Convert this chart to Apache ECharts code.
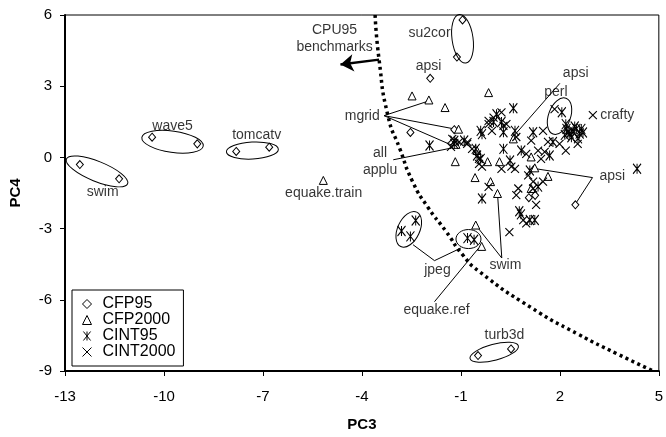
<!DOCTYPE html>
<html>
<head>
<meta charset="utf-8">
<script src="https://cdn.jsdelivr.net/npm/echarts@6/dist/echarts.min.js"></script>
<style>
html, body { margin: 0; padding: 0; background: #fff; }
#chart { width: 666px; height: 437px; }
</style>
</head>
<body>
<div id="chart"></div>
<script>
// values (PC3, PC4)
const cfp95 = [
  [-12.55, -0.3], [-11.36, -0.9], [-10.36, 0.85], [-8.99, 0.57], [-7.81, 0.25], [-6.81, 0.43],
  [-0.95, 5.79], [-1.12, 4.23], [-1.93, 3.33], [-2.53, 1.05], [-1.2, 1.17], [-1.15, 0.6],
  [1.06, -1.7], [1.25, -1.6], [2.47, -2.0], [-0.48, -8.35], [0.52, -8.07]
];
const cfp2000 = [
  [-5.17, -0.97], [-2.48, 2.59], [-1.97, 2.42], [-1.48, 2.1], [-0.16, 2.73], [-1.07, 1.19], [0.59, 0.78],
  [-1.17, -0.18], [-0.57, -0.85], [-0.19, -0.18], [0.17, -0.18], [1.13, 0.02], [-0.51, 0.29], [1.24, -0.44],
  [1.64, -0.8], [-0.1, -1.02], [0.11, -1.52], [1.13, -1.31], [-0.55, -2.85], [-0.37, -3.75], [-1.15, 0.55]
];
const cint95 = [
  [-2.8, -3.1], [-2.53, -3.33], [-2.37, -2.66], [-0.8, -3.4], [-0.6, -3.47], [4.34, -0.48], [-1.95, 0.5],
  [0.08, 1.82], [0.59, 2.07], [-0.01, 1.49], [0.23, 1.49], [-0.4, 1.12], [0.29, 1.06], [0.64, 1.12], [-0.36, 0.98],
  [-1.2, 0.57], [-0.9, 0.71], [-1.2, 0.7], [-0.55, 0.36], [-0.51, 0.08], [-0.4, -0.06], [0.29, 0.36], [0.49, -0.13],
  [1.19, 1.06], [0.83, 0.29], [1.69, 0.08], [1.79, 0.65], [2.06, 1.9], [2.18, 1.4],
  [2.2, 1.2], [2.3, 1.0], [2.4, 1.1], [2.5, 1.2], [2.6, 1.0], [2.35, 0.85], [2.55, 0.8], [2.7, 1.05],
  [2.15, 0.95], [2.45, 1.3], [2.65, 1.2], [2.25, 1.05],
  [1.09, -0.55], [1.34, -1.23], [-0.36, -1.73], [0.77, -2.27], [0.82, -2.4], [1.09, -2.64], [1.24, -2.64]
];
const cint2000 = [
  [3.0, 1.78], [1.84, 2.03], [0.23, 1.9], [-0.16, 1.54], [0.38, 1.4], [-0.06, 1.12], [0.68, 0.86], [-1.26, 0.78],
  [-1.05, 0.65], [-0.81, 0.57], [-0.66, 0.36], [-1.3, 0.44], [-0.8, 0.64], [-0.45, -0.06], [-0.45, -0.27], [-0.36, -0.39],
  [0.23, -0.48], [0.53, -0.39], [0.64, -0.48], [1.49, 1.12], [1.13, 0.71], [0.98, 0.15], [1.34, 0.29], [1.54, 0.23],
  [1.43, -0.06], [1.99, 0.57], [1.64, 0.65], [2.18, 0.29], [2.54, 0.57], [1.04, -0.76], [1.19, -1.02], [1.49, -1.02],
  [1.19, -1.31], [0.74, -1.31], [0.68, -1.59], [-0.16, -1.24], [-0.01, 1.68], [0.29, 1.33], [-0.16, 1.4],
  [1.28, -2.0], [0.89, -2.64], [0.98, -2.78], [0.47, -3.15]
];
// dotted boundary of the CPU95 region
const boundary = [
  [-3.6, 6.0], [-3.48, 4.12], [-3.21, 1.75], [-2.85, 0.36], [-2.46, -1.03], [-2.01, -2.08],
  [-1.45, -3.12], [-0.95, -4.1], [-0.46, -4.79], [1.13, -6.33],
  [2.54, -7.44], [3.74, -8.28], [4.84, -9.01]
];

// annotations
const labels = [
  { name: 'CPU95\nbenchmarks', value: [-4.83, 5.02] },
  { name: 'su2cor', value: [-1.95, 5.25] },
  { name: 'apsi', value: [-1.98, 3.83] },
  { name: 'apsi', value: [2.48, 3.53] },
  { name: 'mgrid', value: [-3.99, 1.74] },
  { name: 'all\napplu', value: [-3.45, -0.18] },
  { name: 'wave5', value: [-9.74, 1.32] },
  { name: 'tomcatv', value: [-7.19, 0.94] },
  { name: 'swim', value: [-11.86, -1.48] },
  { name: 'equake.train', value: [-5.16, -1.52] },
  { name: 'perl', value: [1.88, 2.74] },
  { name: 'crafty', value: [3.74, 1.78] },
  { name: 'apsi', value: [3.59, -0.81] },
  { name: 'jpeg', value: [-1.71, -4.74] },
  { name: 'swim', value: [0.35, -4.53] },
  { name: 'equake.ref', value: [-1.74, -6.45] },
  { name: 'turb3d', value: [0.32, -7.5] }
];
const leaders = [
  [[-3.33, 1.76], [-1.97, 2.38]],
  [[-3.33, 1.76], [-1.2, 1.2]],
  [[-3.33, 1.76], [-1.25, 0.5]],
  [[-3.05, -0.1], [-1.3, 0.39]],
  [[0.59, 0.88], [2.0, 3.12]],
  [[1.28, -0.48], [2.99, -0.85], [2.45, -2.01]],
  [[-2.45, -3.68], [-1.8, -4.35], [-1.0, -3.82]],
  [[-0.55, -2.85], [0.24, -4.24], [0.11, -1.52]],
  [[-1.8, -6.08], [-0.46, -3.82]]
];
const arrow = [[-3.48, 4.12], [-4.65, 3.91]];
const ellipses = [
  { c: [-0.95, 5.0], rx: 10.5, ry: 24.5, rot: -8 },
  { c: [1.99, 1.74], rx: 11, ry: 19, rot: 20 },
  { c: [-9.74, 0.66], rx: 31, ry: 10.7, rot: 8 },
  { c: [-7.32, 0.29], rx: 26, ry: 8.5, rot: -3 },
  { c: [-12.03, -0.59], rx: 33, ry: 10, rot: 22 },
  { c: [-2.58, -3.03], rx: 11, ry: 19, rot: 25 },
  { c: [-0.77, -3.44], rx: 12.5, ry: 9.5, rot: 0 },
  { c: [0.01, -8.21], rx: 25, ry: 8, rot: -15 }
];

const FONT = 'Liberation Sans, Arial, sans-serif';
const asterisk = 'path://M0,0L8,10M8,0L0,10M4,0L4,10';
const cross = 'path://M0,0L10,10M10,0L0,10';
const markStyle = { color: '#fff', borderColor: '#000', borderWidth: 1, opacity: 1 };
const strokeStyle = { color: 'transparent', borderColor: '#000', borderWidth: 1.1, opacity: 1 };

const option = {
  animation: false,
  backgroundColor: '#fff',
  grid: { left: 61, right: 4, top: 15, bottom: 63, show: true, borderColor: '#000', borderWidth: 1 },
  legend: {
    orient: 'vertical', left: 72, top: 290,
    data: ['CFP95', 'CFP2000', 'CINT95', 'CINT2000'],
    itemWidth: 9, itemHeight: 9, itemGap: 0,
    padding: [6, 8, 6, 10],
    borderColor: '#000', borderWidth: 1, backgroundColor: '#fff',
    itemStyle: { borderWidth: 1 },
    textStyle: { fontFamily: FONT, fontSize: 16, lineHeight: 16, color: '#000', padding: [0, 0, 0, 6] },
    selectedMode: false
  },
  xAxis: {
    type: 'value', min: -13, max: 5, interval: 3,
    name: 'PC3', nameLocation: 'middle', nameGap: 46,
    nameTextStyle: { fontFamily: FONT, fontSize: 15, fontWeight: 'bold', color: '#000' },
    axisLine: { onZero: false, lineStyle: { color: '#000', width: 2 } },
    axisTick: { show: true, length: 5, lineStyle: { color: '#000' } },
    axisLabel: { fontFamily: FONT, fontSize: 15, color: '#000', margin: 18 },
    splitLine: { show: false }
  },
  yAxis: {
    type: 'value', min: -9, max: 6, interval: 3,
    name: 'PC4', nameLocation: 'middle', nameGap: 42, nameRotate: 90,
    nameTextStyle: { fontFamily: FONT, fontSize: 15, fontWeight: 'bold', color: '#000' },
    axisLine: { onZero: false, lineStyle: { color: '#000', width: 2 } },
    axisTick: { show: true, length: 5, lineStyle: { color: '#000' } },
    axisLabel: { fontFamily: FONT, fontSize: 15, color: '#000', margin: 13 },
    splitLine: { show: false }
  },
  series: [
    {
      name: 'boundary', type: 'line', data: boundary, smooth: 0.6, symbol: 'none', z: 1,
      lineStyle: { color: '#000', width: 3.5, type: [3, 3.5], cap: 'butt' }
    },
    {
      name: 'leaders', type: 'lines', coordinateSystem: 'cartesian2d', polyline: true, z: 3,
      data: leaders.map(c => ({ coords: c })),
      lineStyle: { color: '#000', width: 1, opacity: 1 }
    },
    {
      name: 'arrow', type: 'lines', coordinateSystem: 'cartesian2d', z: 3,
      symbol: ['none', 'arrow'], symbolSize: 13,
      data: [{ coords: arrow }],
      lineStyle: { color: '#000', width: 2.5, opacity: 1 }
    },
    { name: 'CFP95', type: 'scatter', data: cfp95, symbol: 'diamond', symbolSize: [7, 8], itemStyle: markStyle, z: 4 },
    { name: 'CFP2000', type: 'scatter', data: cfp2000, symbol: 'triangle', symbolSize: [8, 8], itemStyle: markStyle, z: 4 },
    { name: 'CINT95', type: 'scatter', data: cint95, symbol: asterisk, symbolSize: [8, 10], itemStyle: strokeStyle, z: 5 },
    { name: 'CINT2000', type: 'scatter', data: cint2000, symbol: cross, symbolSize: [8, 8], itemStyle: strokeStyle, z: 5 },
    {
      name: 'labels', type: 'scatter', data: labels, symbolSize: 1, z: 6,
      itemStyle: { color: 'transparent' },
      label: {
        show: true, position: 'inside', formatter: '{b}',
        fontFamily: FONT, fontSize: 14, color: '#000', lineHeight: 17,
        textBorderWidth: 0, backgroundColor: 'transparent'
      },
      silent: true
    }
  ]
};

const chart = echarts.init(document.getElementById('chart'));
chart.setOption(option);

// ellipses round the paired points
chart.setOption({
  graphic: ellipses.map(e => {
    const p = chart.convertToPixel({ gridIndex: 0 }, e.c);
    return {
      type: 'ellipse', x: p[0], y: p[1], rotation: -e.rot * Math.PI / 180, z: 10,
      shape: { cx: 0, cy: 0, rx: e.rx, ry: e.ry },
      style: { fill: 'none', stroke: '#000', lineWidth: 1 }
    };
  })
});
</script>
</body>
</html>
